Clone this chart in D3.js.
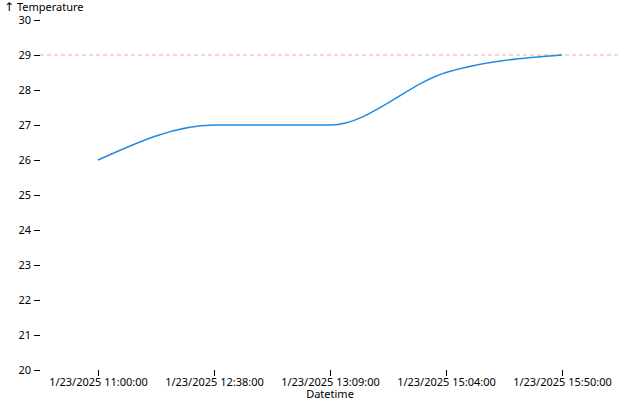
<!DOCTYPE html>
<html><head><meta charset="utf-8">
<script src="https://cdn.jsdelivr.net/npm/d3@7"></script>
<style>body{margin:0;background:#fff}svg{display:block;font-family:"Noto Sans",sans-serif;font-size:11px}</style>
</head><body>
<script>
const categories = ["1/23/2025 11:00:00","1/23/2025 12:38:00","1/23/2025 13:09:00","1/23/2025 15:04:00","1/23/2025 15:50:00"];
const temperatures = [26, 27, 27, 28.5, 29];
const yTicks = [20,21,22,23,24,25,26,27,28,29,30];
const threshold = 29;

const W = 640, H = 400, mL = 40, mR = 20, mT = 20, mB = 30;
const svg = d3.select("body").append("svg").attr("width", W).attr("height", H);
const x = d3.scalePoint().domain(categories).range([mL, W - mR]).padding(0.5);
const y = d3.scaleLinear().domain([20, 30]).range([H - mB, mT]);

// y axis
const ya = svg.append("g").attr("transform", `translate(${mL},0)`)
  .call(d3.axisLeft(y).tickValues(yTicks).tickSize(6).tickPadding(3).tickFormat(d3.format("d")));
ya.select(".domain").remove();
ya.selectAll("text").attr("fill", "#000").style("font-size","11px").style("font-family","'Noto Sans',sans-serif");
const t = svg.append("text").attr("x", 4).attr("y", 11).attr("fill", "#000");
t.append("tspan").style("font-family","'DejaVu Sans',sans-serif").style("font-size","12px").text("↑");
t.append("tspan").text(" Temperature");

// x axis
const xa = svg.append("g").attr("transform", `translate(0,${H - mB})`)
  .call(d3.axisBottom(x).tickSize(6).tickPadding(2));
xa.select(".domain").remove();
xa.selectAll("text").attr("fill", "#000").style("font-size","11px").style("font-family","'Noto Sans',sans-serif");
svg.append("text").attr("x", (mL + W - mR) / 2).attr("y", H - 2).attr("text-anchor", "middle").attr("fill", "#000").text("Datetime");

// threshold
svg.append("line").attr("x1", mL).attr("x2", W - mR).attr("y1", y(threshold)).attr("y2", y(threshold))
  .attr("stroke", "#e8505b").attr("stroke-opacity", 0.5).attr("stroke-dasharray", "4,3").attr("stroke-width", 1);

// line
const line = d3.line().x((d, i) => x(categories[i])).y(d => y(d)).curve(d3.curveMonotoneX);
svg.append("path").datum(temperatures).attr("d", line).attr("fill", "none")
  .attr("stroke", "#2489e0").attr("stroke-width", 1.5);
</script>
</body></html>
